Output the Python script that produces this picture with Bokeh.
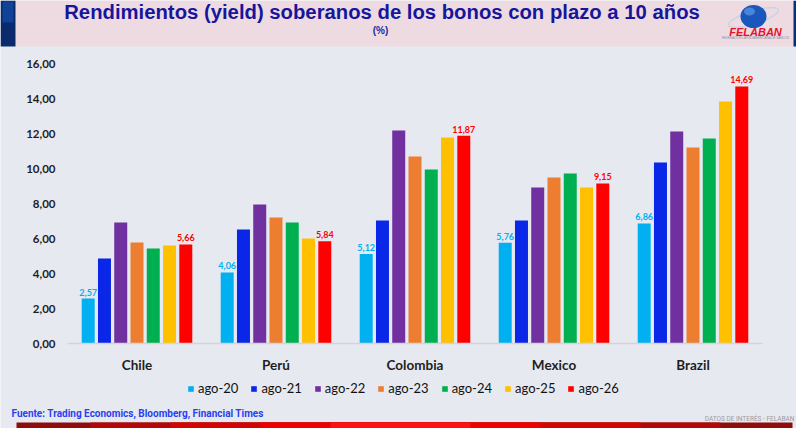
from bokeh.plotting import figure
from bokeh.models import (Range1d, ColumnDataSource, Legend, LegendItem, LabelSet,
                          FixedTicker, LinearAxis)
from bokeh.transform import dodge
from bokeh.core.properties import value
from bokeh.embed import file_html
from bokeh.resources import INLINE

# ---------------- data ----------------
countries = ["Chile", "Perú", "Colombia", "Mexico", "Brazil"]
series = ["ago-20", "ago-21", "ago-22", "ago-23", "ago-24", "ago-25", "ago-26"]
ago20 = [2.57, 4.06, 5.12, 5.76, 6.86]
ago21 = [4.86, 6.51, 7.03, 7.03, 10.34]
ago22 = [6.91, 7.94, 12.17, 8.91, 12.11]
ago23 = [5.77, 7.20, 10.69, 9.49, 11.20]
ago24 = [5.43, 6.91, 9.94, 9.71, 11.71]
ago25 = [5.60, 6.00, 11.77, 8.91, 13.83]
ago26 = [5.66, 5.84, 11.87, 9.15, 14.69]
y_ticks = [0, 2, 4, 6, 8, 10, 12, 14, 16]

title_text = "Rendimientos (yield) soberanos de los bonos con plazo a 10 años"
subtitle_text = "(%)"
logo_text = "FELABAN"
logo_sub = "FEDERACIÓN LATINOAMERICANA DE BANCOS"
source_text = "Fuente: Trading Economics, Bloomberg, Financial Times"
credit_text = "DATOS DE INTERÉS - FELABAN"

colors = ["#00b0f0", "#0a26e6", "#7030a0", "#ed7d31", "#00b050", "#ffc000", "#ff0000"]

def fmt(v):
    return f"{v:.2f}".replace(".", ",")

xi = list(range(len(countries)))
data = dict(xi=xi, **{s: v for s, v in zip(series, [ago20, ago21, ago22, ago23, ago24, ago25, ago26])})
data["lab20"] = [fmt(v) for v in ago20]
data["lab26"] = [fmt(v) for v in ago26]
src = ColumnDataSource(data)

# ---------------- layout constants (pixels) ----------------
W, H = 796, 428
PLOT_L, PLOT_R = 67, 762      # category area left/right
PLOT_T, PLOT_B = 63, 343      # y=16 / y=0
YMAX = 16
cat_px = (PLOT_R - PLOT_L) / len(countries)
y_px = (PLOT_B - PLOT_T) / YMAX
x_start = -0.5 - PLOT_L / cat_px
x_end = len(countries) - 0.5 + (W - PLOT_R) / cat_px
y_start = -(H - PLOT_B) / y_px
y_end = YMAX + PLOT_T / y_px

BG = "#e7e9f0"

p = figure(width=W, height=H, x_range=Range1d(x_start, x_end), y_range=Range1d(y_start, y_end),
           x_axis_type=None, y_axis_type=None, output_backend="svg",
           toolbar_location=None, min_border=0)
p.background_fill_color = BG
p.border_fill_color = BG
p.outline_line_color = None
p.grid.visible = False
p.extra_x_ranges = {"px": Range1d(0, W)}
p.extra_y_ranges = {"px": Range1d(H, 0)}

PX = dict(x_range_name="px", y_range_name="px")

# ---------------- header decoration ----------------
p.quad(left=[15], right=[793], top=[0], bottom=[46], fill_color="#eedbe2", line_color=None, **PX)
p.quad(left=[0], right=[15], top=[0], bottom=[46], fill_color="#0a2a6c", line_color=None, **PX)
p.quad(left=[2], right=[13], top=[1], bottom=[22], fill_color="#1148a4", line_color=None, fill_alpha=0.8, **PX)
p.quad(left=[793], right=[796], top=[0], bottom=[46], fill_color="#0b2c84", line_color=None, **PX)
p.text(x=[381.5], y=[11], text=[title_text], text_font=value("Liberation Sans"),
       text_font_style="bold", text_font_size="20.3px", text_color="#16169c",
       text_align="center", text_baseline="middle", **PX)
p.text(x=[380], y=[30], text=[subtitle_text], text_font=value("Liberation Sans"),
       text_font_style="bold", text_font_size="10px", text_color="#1a2aa0",
       text_align="center", text_baseline="middle", **PX)
# logo
p.ellipse(x=[753], y=[17], width=[52], height=[13], angle=[0.3], fill_color=None,
          line_color="#c9d3e6", line_width=1.5, **PX)
p.ellipse(x=[753], y=[16], width=[26], height=[23], fill_color="#1b56bd", line_color=None, **PX)
p.ellipse(x=[749], y=[11], width=[11], height=[8], fill_color="#5c9ae6", line_color=None, fill_alpha=0.7, **PX)
p.text(x=[755], y=[31], text=[logo_text], text_font=value("Liberation Sans"),
       text_font_style="bold italic", text_font_size="11px", text_color="#e8102a",
       text_align="center", text_baseline="middle", **PX)
p.text(x=[755], y=[37.5], text=[logo_sub], text_font=value("Liberation Sans"),
       text_font_size="3px", text_color="#8a8a96", text_align="center", text_baseline="middle", **PX)

# ---------------- footer decoration ----------------
p.text(x=[11], y=[413], text=[source_text], text_font=value("Roboto"), text_font_style="bold",
       text_font_size="10px", text_color="#2a3ff0", text_align="left", text_baseline="middle", **PX)
p.text(x=[794], y=[418], text=[credit_text], text_font=value("Roboto"),
       text_font_size="6.5px", text_color="#9a9aa4", text_align="right", text_baseline="middle", **PX)
for l, r, c in [(16, 792, "#8e0c0c"), (90, 720, "#b30808"), (170, 640, "#d40404"),
                (260, 540, "#ee0000"), (330, 470, "#ff1212")]:
    p.quad(left=[l], right=[r], top=[422], bottom=[428], fill_color=c, line_color=None, **PX)

# ---------------- bars ----------------
step = 0.117
bw = 0.0935
renderers = []
for i, s in enumerate(series):
    r = p.vbar(x=dodge("xi", (i - 3) * step), top=s, width=bw, bottom=0,
               source=src, fill_color=colors[i], line_color=None)
    renderers.append(r)

lab_font = value("Lato")
p.add_layout(LabelSet(x=dodge("xi", -3 * step), y="ago-20", text="lab20",
                      source=src, text_align="center", text_baseline="bottom", y_offset=3,
                      text_font=lab_font, text_font_style="bold", text_font_size="9px",
                      text_color="#00b0f0"))
p.add_layout(LabelSet(x=dodge("xi", 3 * step), y="ago-26", text="lab26",
                      source=src, text_align="center", text_baseline="bottom", y_offset=3,
                      text_font=lab_font, text_font_style="bold", text_font_size="9px",
                      text_color="#ff0000"))

# ---------------- axes ----------------
yaxis = LinearAxis(fixed_location=-0.5, ticker=FixedTicker(ticks=y_ticks),
                   major_label_overrides={t: fmt(t) for t in y_ticks})
yaxis.axis_line_color = None
yaxis.major_tick_line_color = None
yaxis.minor_tick_line_color = None
yaxis.major_tick_out = 0
yaxis.major_tick_in = 0
yaxis.major_label_standoff = 12
yaxis.major_label_text_font = "Lato"
yaxis.major_label_text_font_style = "bold"
yaxis.major_label_text_font_size = "11.5px"
yaxis.major_label_text_color = "#1e1e1e"
p.add_layout(yaxis, "left")

xaxis = LinearAxis(fixed_location=0, bounds=(-0.5, len(countries) - 0.5),
                   ticker=FixedTicker(ticks=xi),
                   major_label_overrides={i: c for i, c in zip(xi, countries)})
xaxis.axis_line_color = "#d2d4dc"
xaxis.axis_line_width = 1.5
xaxis.major_tick_line_color = None
xaxis.minor_tick_line_color = None
xaxis.major_tick_out = 0
xaxis.major_tick_in = 0
xaxis.major_label_standoff = 13
xaxis.major_label_text_font = "Lato"
xaxis.major_label_text_font_style = "bold"
xaxis.major_label_text_font_size = "13.5px"
xaxis.major_label_text_color = "#1e1e1e"
p.add_layout(xaxis, "below")

# ---------------- legend ----------------
legend = Legend(items=[LegendItem(label=s, renderers=[r]) for s, r in zip(series, renderers)],
                orientation="horizontal", location=(187, 32), margin=0,
                glyph_width=7, glyph_height=7, label_standoff=4, spacing=12,
                padding=0, border_line_color=None, background_fill_alpha=0,
                label_text_font="Lato", label_text_font_size="13px", label_height=7,
                label_text_color="#111111")
p.add_layout(legend)

open("out.html", "w").write(file_html(p, INLINE))
